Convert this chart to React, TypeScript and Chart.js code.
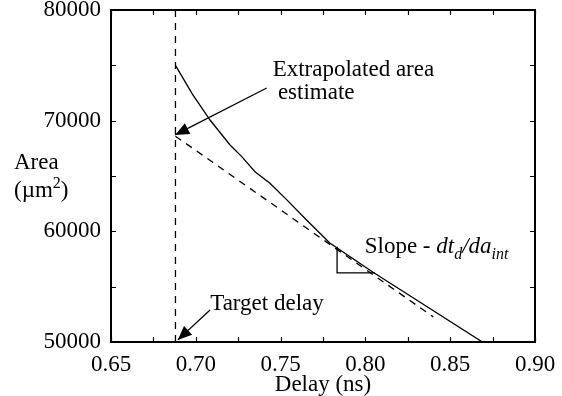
import React, { useEffect, useRef } from "react";
import { Chart, registerables } from "chart.js";

Chart.register(...registerables);

// Curve: area vs delay
const curveDelay = [0.688, 0.698, 0.7084, 0.7202, 0.7271, 0.7349, 0.7437, 0.7537, 0.7653, 0.779, 0.8043, 0.869];
const curveArea = [75000, 72400, 70060, 67800, 66750, 65390, 64350, 62840, 61030, 58950, 56330, 50000];

// Tangent (extrapolation) line
const tangentDelay = [0.688, 0.84];
const tangentArea = [68600, 52270];

// Target delay vertical line
const targetDelay = [0.688, 0.688];
const targetArea = [50000, 80000];

// Slope triangle
const triDelay = [0.7833, 0.7833, 0.8056];
const triArea = [58600, 56240, 56240];

// Annotation arrows (start -> tip)
const arrowExtrapDelay = [0.7418, 0.6878];
const arrowExtrapArea = [72950, 68710];
const arrowTargetDelay = [0.7084, 0.6894];
const arrowTargetArea = [52900, 50190];

const xTicks = [0.65, 0.7, 0.75, 0.8, 0.85, 0.9];
const yTicks = [50000, 60000, 70000, 80000];

const FONT = "'Liberation Serif', 'Times New Roman', serif";

const pts = (xs: number[], ys: number[]) => xs.map((x, i) => ({ x, y: ys[i] }));

export default function App() {
  const ref = useRef<HTMLCanvasElement | null>(null);
  useEffect(() => {
    const canvas = ref.current!;
    const decor = {
      id: "decor",
      afterDraw(chart: any) {
        const ctx = chart.ctx as CanvasRenderingContext2D;
        const { left, right, top, bottom } = chart.chartArea;
        const xs = chart.scales.x;
        const ys = chart.scales.y;
        ctx.save();
        // frame
        ctx.strokeStyle = "#000";
        ctx.lineWidth = 2;
        ctx.strokeRect(left, top, right - left, bottom - top);
        // ticks inward, all sides
        ctx.lineWidth = 1.2;
        ctx.beginPath();
        for (let v = 0.65; v <= 0.9001; v += 0.025) {
          const px = Math.round(xs.getPixelForValue(v)) + 0.5;
          const len = 5;
          ctx.moveTo(px, bottom);
          ctx.lineTo(px, bottom - len);
          ctx.moveTo(px, top);
          ctx.lineTo(px, top + len);
        }
        for (let v = 50000; v <= 80000; v += 5000) {
          const py = Math.round(ys.getPixelForValue(v)) + 0.5;
          const len = 5;
          ctx.moveTo(left, py);
          ctx.lineTo(left + len, py);
          ctx.moveTo(right, py);
          ctx.lineTo(right - len, py);
        }
        ctx.stroke();
        // arrowheads
        const heads = [4, 5];
        heads.forEach((di) => {
          const meta = chart.getDatasetMeta(di);
          const p0 = meta.data[0];
          const p1 = meta.data[1];
          const ang = Math.atan2(p1.y - p0.y, p1.x - p0.x);
          const L = 14, W = 6;
          ctx.fillStyle = "#000";
          ctx.beginPath();
          ctx.moveTo(p1.x, p1.y);
          ctx.lineTo(p1.x - L * Math.cos(ang) + W * Math.sin(ang), p1.y - L * Math.sin(ang) - W * Math.cos(ang));
          ctx.lineTo(p1.x - L * Math.cos(ang) - W * Math.sin(ang), p1.y - L * Math.sin(ang) + W * Math.cos(ang));
          ctx.closePath();
          ctx.fill();
        });
        // texts
        ctx.fillStyle = "#000";
        ctx.textBaseline = "alphabetic";
        ctx.textAlign = "left";
        ctx.font = `23px ${FONT}`;
        const X = (v: number) => xs.getPixelForValue(v);
        const Y = (v: number) => ys.getPixelForValue(v);
        ctx.fillText("Extrapolated area", X(0.7453), Y(74040));
        ctx.fillText("estimate", X(0.7484), Y(71960));
        ctx.fillText("Target delay", X(0.7085), Y(52900));
        // slope label
        let sx = X(0.7996);
        const sy = Y(58020);
        const put = (t: string, font: string, dy = 0) => {
          ctx.font = font;
          ctx.fillText(t, sx, sy + dy);
          sx += ctx.measureText(t).width;
        };
        put("Slope - ", `23px ${FONT}`);
        put("dt", `italic 23px ${FONT}`);
        put("d", `italic 16px ${FONT}`, 6);
        put("/da", `italic 23px ${FONT}`);
        put("int", `italic 16px ${FONT}`, 6);
        // y title
        ctx.font = `23px ${FONT}`;
        ctx.fillText("Area", 14, 169);
        let tx = 14;
        const ty = 197;
        const put2 = (t: string, font: string, dy = 0) => {
          ctx.font = font;
          ctx.fillText(t, tx, ty + dy);
          tx += ctx.measureText(t).width;
        };
        put2("(\u00b5m", `23px ${FONT}`);
        put2("2", `16px ${FONT}`, -9);
        put2(")", `23px ${FONT}`);
        // x title
        ctx.font = `23px ${FONT}`;
        ctx.textAlign = "center";
        ctx.fillText("Delay (ns)", (left + right) / 2, 391);
        ctx.restore();
      },
    };

    const lineDs = (data: any[], dash: number[] = [], width = 1.3) => ({
      data,
      borderColor: "#000",
      backgroundColor: "#000",
      borderWidth: width,
      borderDash: dash,
      pointRadius: 0,
      showLine: true,
      tension: 0,
      fill: false,
    });

    const chart = new Chart(canvas, {
      type: "scatter",
      data: {
        datasets: [
          lineDs(pts(curveDelay, curveArea), [], 1.3),
          lineDs(pts(tangentDelay, tangentArea), [7, 6], 1.3),
          lineDs(pts(targetDelay, targetArea), [7, 6], 1.3),
          lineDs(pts(triDelay, triArea), [], 1.3),
          lineDs(pts(arrowExtrapDelay, arrowExtrapArea), [], 1.3),
          lineDs(pts(arrowTargetDelay, arrowTargetArea), [], 1.3),
        ] as any,
      },
      options: {
        animation: false,
        responsive: false,
        layout: { padding: { left: 0, right: 27, top: 10, bottom: 0 } },
        plugins: { legend: { display: false }, tooltip: { enabled: false } },
        scales: {
          x: {
            type: "linear",
            min: 0.65,
            max: 0.9,
            afterFit: (s: any) => { s.height = 54; s.paddingLeft = 0; s.paddingRight = 0; },
            afterBuildTicks: (s: any) => { s.ticks = xTicks.map((v) => ({ value: v })); },
            grid: { display: false, drawTicks: false },
            border: { display: false },
            ticks: {
              padding: 9,
              color: "#000",
              font: { family: FONT, size: 23 },
              callback: (v: any) => Number(v).toFixed(2),
              maxRotation: 0,
            },
          },
          y: {
            type: "linear",
            min: 50000,
            max: 80000,
            afterFit: (s: any) => { s.width = 111; s.paddingTop = 0; s.paddingBottom = 0; },
            afterBuildTicks: (s: any) => { s.ticks = yTicks.map((v) => ({ value: v })); },
            grid: { display: false, drawTicks: false },
            border: { display: false },
            ticks: {
              padding: 10,
              color: "#000",
              font: { family: FONT, size: 23 },
              callback: (v: any) => String(v),
            },
          },
        },
      } as any,
      plugins: [decor],
    });
    return () => chart.destroy();
  }, []);
  return (
    <canvas
      ref={ref}
      width={562}
      height={396}
      style={{ position: "fixed", left: 0, top: 0, width: 562, height: 396, display: "block", background: "#fff" }}
    />
  );
}
